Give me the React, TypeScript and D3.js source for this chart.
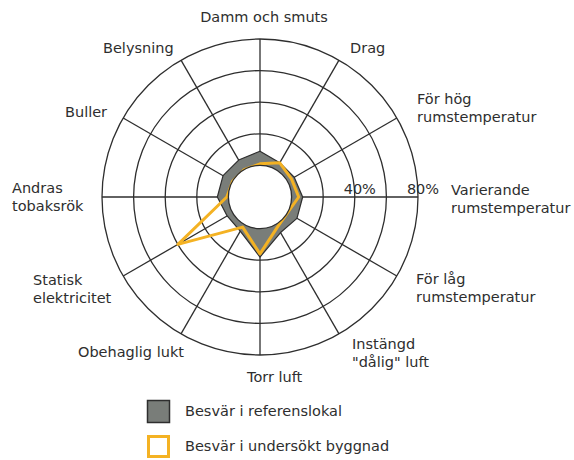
import * as d3 from "d3";
import React, { useRef, useEffect } from "react";

// axes, clockwise from the top
const categories = [
  "Damm och smuts",
  "Drag",
  "För hög rumstemperatur",
  "Varierande rumstemperatur",
  "För låg rumstemperatur",
  'Instängd "dålig" luft',
  "Torr luft",
  "Obehaglig lukt",
  "Statisk elektricitet",
  "Andras tobaksrök",
  "Buller",
  "Belysning",
];
// label lines for each axis (same order)
const labelLines = [
  ["Damm och smuts"],
  ["Drag"],
  ["För hög", "rumstemperatur"],
  ["Varierande", "rumstemperatur"],
  ["För låg", "rumstemperatur"],
  ["Instängd", '"dålig" luft'],
  ["Torr luft"],
  ["Obehaglig lukt"],
  ["Statisk", "elektricitet"],
  ["Andras", "tobaksrök"],
  ["Buller"],
  ["Belysning"],
];
// percent of complaints
const referensValues = [9, 5, 5, 7, 7, 6, 18, 5, 4, 7, 7, 7];
const undersoktValues = [1, 5, 3, 4.5, 0, 2, 16, 2, 40, 1, 0, 0];
const ringTicks = [0, 20, 40, 60, 80];
const ringLabels = ["40%", "80%"];
const seriesNames = ["Besvär i referenslokal", "Besvär i undersökt byggnad"];

const cx = 260;
const cy = 197;
const ink = "#2e2e2e";
const grayFill = "#797d79";
const orange = "#f4b223";
const font = "DejaVu Sans";

// where each axis label sits: [x, y of first baseline, anchor]
const labelPos: [number, number, string][] = [
  [264, 22, "middle"],
  [350, 53, "start"],
  [417, 104, "start"],
  [451, 195, "start"],
  [416, 284, "start"],
  [352, 349, "start"],
  [247, 382, "start"],
  [78, 357, "start"],
  [33, 285, "start"],
  [12, 193, "start"],
  [65, 117, "start"],
  [103, 53, "start"],
];

function App() {
  const ref = useRef<any>(null);

  useEffect(() => {
    const svg = d3.select(ref.current);
    svg.selectAll("*").remove();

    const r = d3.scaleLinear().domain([0, 80]).range([31.6, 158]);
    const angle = d3
      .scalePoint<string>()
      .domain(categories)
      .range([0, 2 * Math.PI])
      .padding(0);
    const step = (2 * Math.PI) / categories.length;
    const ang = (i: number) => i * step;

    const g = svg.append("g");

    // rings
    g.selectAll("circle.ring")
      .data(ringTicks.slice(1))
      .enter()
      .append("circle")
      .attr("class", "ring")
      .attr("cx", cx)
      .attr("cy", cy)
      .attr("r", (d) => r(d))
      .attr("fill", "none")
      .attr("stroke", ink)
      .attr("stroke-width", 1.3);

    // spokes
    g.selectAll("line.spoke")
      .data(categories)
      .enter()
      .append("line")
      .attr("class", "spoke")
      .attr("x1", (d, i) => cx + r(0) * Math.sin(ang(i)))
      .attr("y1", (d, i) => cy - r(0) * Math.cos(ang(i)))
      .attr("x2", (d, i) => cx + r(80) * Math.sin(ang(i)))
      .attr("y2", (d, i) => cy - r(80) * Math.cos(ang(i)))
      .attr("stroke", ink)
      .attr("stroke-width", 1.3);

    const radial = d3
      .lineRadial<number>()
      .angle((d, i) => ang(i))
      .radius((d) => r(d))
      .curve(d3.curveLinearClosed);

    // reference series
    g.append("path")
      .attr("transform", `translate(${cx},${cy})`)
      .attr("d", radial(referensValues))
      .attr("fill", grayFill)
      .attr("stroke", ink)
      .attr("stroke-width", 1.2)
      .attr("stroke-linejoin", "round");

    // investigated building
    g.append("path")
      .attr("transform", `translate(${cx},${cy})`)
      .attr("d", radial(undersoktValues))
      .attr("fill", "none")
      .attr("stroke", orange)
      .attr("stroke-width", 3)
      .attr("stroke-linejoin", "round");

    // hole in the middle
    g.append("circle")
      .attr("cx", cx)
      .attr("cy", cy)
      .attr("r", r(0))
      .attr("fill", "#fff")
      .attr("stroke", ink)
      .attr("stroke-width", 1.3);

    // ring labels on the horizontal axis
    g.selectAll("text.ringlab")
      .data(ringLabels)
      .enter()
      .append("text")
      .attr("class", "ringlab")
      .attr("x", (d) => cx + r(parseFloat(d)) + 5)
      .attr("y", cy - 3)
      .attr("text-anchor", "middle")
      .attr("font-family", font)
      .attr("font-size", 14.5)
      .attr("fill", ink)
      .text((d) => d);

    // axis labels
    labelLines.forEach((lines, i) => {
      const [x, y, anchor] = labelPos[i];
      const t = g
        .append("text")
        .attr("x", x)
        .attr("y", y)
        .attr("text-anchor", anchor)
        .attr("font-family", font)
        .attr("font-size", 14.5)
        .attr("fill", ink);
      lines.forEach((line, j) => {
        t.append("tspan").attr("x", x).attr("dy", j === 0 ? 0 : 18).text(line);
      });
    });

    // legend
    const leg = g
      .selectAll("g.leg")
      .data(seriesNames)
      .enter()
      .append("g")
      .attr("class", "leg")
      .attr("transform", (d, i) => `translate(147,${400 + i * 35})`);
    leg
      .append("rect")
      .attr("x", (d, i) => (i === 0 ? 0.5 : 1.5))
      .attr("y", (d, i) => (i === 0 ? 0.5 : 1.5))
      .attr("width", (d, i) => (i === 0 ? 22 : 20))
      .attr("height", (d, i) => (i === 0 ? 22 : 20))
      .attr("fill", (d, i) => (i === 0 ? grayFill : "#fff"))
      .attr("stroke", (d, i) => (i === 0 ? ink : orange))
      .attr("stroke-width", (d, i) => (i === 0 ? 1.5 : 3));
    leg
      .append("text")
      .attr("x", 38)
      .attr("y", 16)
      .attr("font-family", font)
      .attr("font-size", 14.5)
      .attr("fill", ink)
      .text((d) => d);
  }, []);

  return (
    <svg
      ref={ref}
      width={574}
      height={460}
      style={{ position: "absolute", left: 0, top: 0, background: "#fff" }}
    ></svg>
  );
}

export default App;
